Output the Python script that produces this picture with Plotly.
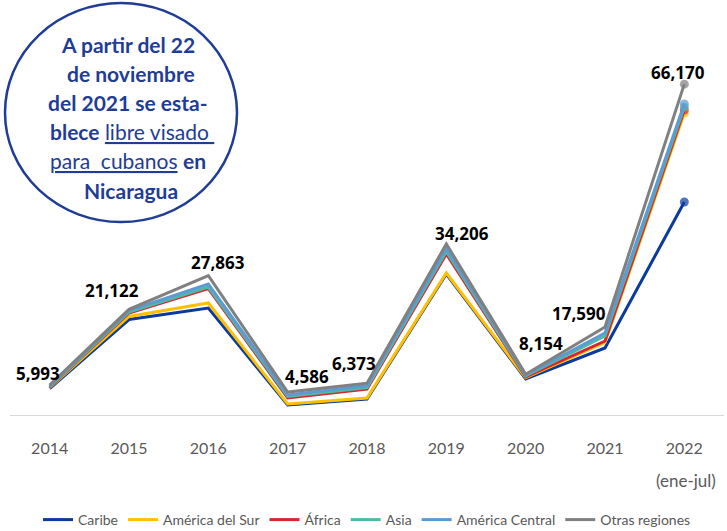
import plotly.graph_objects as go
import numpy as np

years = ["2014", "2015", "2016", "2017", "2018", "2019", "2020", "2021", "2022"]
caribe = [5300, 19100, 21400, 2000, 3200, 28200, 7200, 13400, 42600]
america_sur = [150, 600, 1000, 200, 200, 200, 250, 1100, 17800]
africa = [100, 700, 2900, 1200, 1800, 3800, 200, 300, 600]
asia = [100, 200, 300, 300, 300, 500, 200, 1000, 600]
america_central = [150, 300, 600, 300, 400, 600, 150, 600, 600]
otras = [193, 222, 1663, 586, 473, 906, 154, 1190, 3970]

series_names = ["Caribe", "América del Sur", "África", "Asia", "América Central", "Otras regiones"]
series_vals = [caribe, america_sur, africa, asia, america_central, otras]
colors = ["#0a3a9e", "#ffc000", "#d9262e", "#4fb9a5", "#5b9bd5", "#808080"]

# label offsets (px) for total labels
lab_dx = [-12, -17, 10, 19, -13, 16, 15, -26, -6]
lab_dy = [12, 19, 13, 16, 20, 10, 31, 14, 12]

cum = np.cumsum(np.array(series_vals), axis=0)
totals = cum[-1]

fig = go.Figure()
n = len(years)
for i, name in enumerate(series_names):
    sizes = [0] * (n - 1) + [9]
    fig.add_trace(go.Scatter(
        x=years, y=cum[i].tolist(), mode="lines+markers", name=name,
        line=dict(color=colors[i], width=3),
        marker=dict(size=sizes, color=colors[i], line=dict(width=0))))

for j, yv in enumerate(years):
    fig.add_annotation(x=j, y=float(totals[j]), xref="x", yref="y",
                       text=f"{int(totals[j]):,}", showarrow=False,
                       xshift=lab_dx[j], yshift=lab_dy[j],
                       font=dict(family="Open Sans", size=17, color="black", weight="bold"))

L, T, H, W = 10, 65, 350, 714
def px(x):
    return (x - L) / W
def py(y):
    return (T + H - y) / H

fig.add_annotation(x=n - 1, y=py(480), xref="x", yref="paper", text="(ene-jul)",
                   showarrow=False, yanchor="middle", xshift=2,
                   font=dict(family="Lato", size=17, color="#595959"))

fig.add_shape(type="circle", xref="paper", yref="paper",
              x0=px(5), x1=px(237), y0=py(222), y1=py(3),
              line=dict(color="#1f3c96", width=2.5), fillcolor="white")

blue = "#1f3c96"
note_lines = [
    ("<b>A partir del 22</b>", 128, 45),
    ("<b>de noviembre</b>", 131, 74),
    ("<b>del 2021 se esta-</b>", 128, 103),
    ("<b>blece</b> <u>libre visado </u>", 132, 131),
    ("<u>para  cubanos</u> <b>en</b>", 128, 160),
    ("<b>Nicaragua</b>", 131, 190),
]
for txt, cx, cy in note_lines:
    fig.add_annotation(x=px(cx), y=py(cy), xref="paper", yref="paper", text=txt,
                       showarrow=False, xanchor="center", yanchor="middle",
                       font=dict(family="Lato", size=21, color=blue))

fig.update_layout(
    width=727, height=531,
    margin=dict(l=L, r=3, t=T, b=531 - T - H, autoexpand=False),
    paper_bgcolor="white", plot_bgcolor="white",
    xaxis=dict(type="category", range=[-0.5, 8.5], showgrid=False, zeroline=False,
               showline=True, linecolor="#d9d9d9", linewidth=1, ticks="",
               ticklabelstandoff=19, automargin=False,
               tickfont=dict(family="Lato", size=16, color="#595959")),
    yaxis=dict(range=[0, 70000], visible=False, showgrid=False, zeroline=False,
               automargin=False),
    legend=dict(orientation="h", x=0.5, xanchor="center", y=py(520), yanchor="middle",
                font=dict(family="Lato", size=14, color="#595959"),
                itemwidth=30, tracegroupgap=0),
    showlegend=True,
)

fig.write_html("out.html", config={"displayModeBar": False},
               post_script="document.body.style.margin='0';document.body.style.overflow='hidden';")
